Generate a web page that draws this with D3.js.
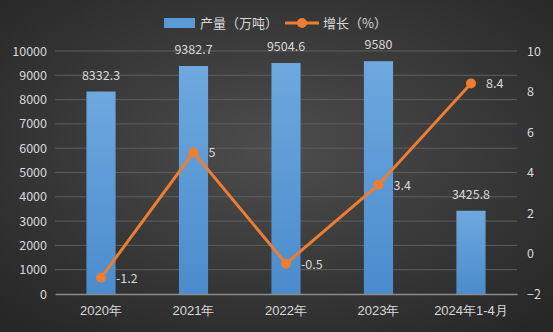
<!DOCTYPE html>
<html>
<head>
<meta charset="utf-8">
<script src="https://cdn.jsdelivr.net/npm/d3@7"></script>
<style>
  html, body { margin: 0; padding: 0; background: #333; }
  svg { display: block; font-family: "Noto Sans CJK SC", "Noto Sans", sans-serif; }
</style>
</head>
<body>
<div id="chart"></div>
<script>
const categories = ['2020年', '2021年', '2022年', '2023年', '2024年1-4月'];
const output = [8332.3, 9382.7, 9504.6, 9580, 3425.8];
const growth = [-1.2, 5, -0.5, 3.4, 8.4];
const leftTicks = [0, 1000, 2000, 3000, 4000, 5000, 6000, 7000, 8000, 9000, 10000];
const rightTicks = [-2, 0, 2, 4, 6, 8, 10];

const width = 553, height = 332;
const margin = { top: 51, right: 36, bottom: 38, left: 55 };
const textColor = '#d9d9d9';
const numFont = '"Noto Sans CJK SC", "Noto Sans", sans-serif';

const svg = d3.select('#chart').append('svg')
  .attr('width', width)
  .attr('height', height);

// fond
const defs = svg.append('defs');
const bg = defs.append('radialGradient').attr('id', 'bg')
  .attr('cx', '50%').attr('cy', '45%').attr('r', '70%');
bg.append('stop').attr('offset', '0%').attr('stop-color', '#4d4d4d');
bg.append('stop').attr('offset', '100%').attr('stop-color', '#272727');
svg.append('rect').attr('width', width).attr('height', height).attr('fill', 'url(#bg)');

const barGrad = defs.append('linearGradient').attr('id', 'barGrad')
  .attr('x1', 0).attr('y1', 0).attr('x2', 0).attr('y2', 1);
barGrad.append('stop').attr('offset', '0%').attr('stop-color', '#6ea8df');
barGrad.append('stop').attr('offset', '100%').attr('stop-color', '#4a8ccd');

const x = d3.scaleBand()
  .domain(categories)
  .range([margin.left, width - margin.right])
  .paddingInner(0.685)
  .paddingOuter(0.34);

const yL = d3.scaleLinear().domain([0, 10000]).range([height - margin.bottom, margin.top]);
const yR = d3.scaleLinear().domain([-2, 10]).range([height - margin.bottom, margin.top]);

// grille
svg.append('g')
  .selectAll('line')
  .data(leftTicks.slice(1))
  .enter().append('line')
  .attr('x1', margin.left).attr('x2', width - margin.right)
  .attr('y1', d => yL(d)).attr('y2', d => yL(d))
  .attr('stroke', '#5e5e5e').attr('stroke-width', 1);

// axe gauche
const axL = svg.append('g')
  .attr('transform', `translate(${margin.left - 8},0)`)
  .call(d3.axisLeft(yL).tickValues(leftTicks).tickFormat(d3.format('d')).tickSize(0).tickPadding(0));
axL.select('.domain').remove();
axL.selectAll('text').attr('fill', textColor).style('font-size', '12.5px')
  .style('font-family', numFont);

// axe droit
const axR = svg.append('g')
  .attr('transform', `translate(${width - margin.right + 10},0)`)
  .call(d3.axisRight(yR).tickValues(rightTicks).tickSize(0).tickPadding(0));
axR.select('.domain').remove();
axR.selectAll('text').attr('fill', textColor).style('font-size', '12.5px')
  .style('font-family', numFont);

// barres
svg.append('g')
  .selectAll('rect')
  .data(output)
  .enter().append('rect')
  .attr('x', (d, i) => x(categories[i]))
  .attr('width', x.bandwidth())
  .attr('y', d => yL(d))
  .attr('height', d => yL(0) - yL(d))
  .attr('fill', 'url(#barGrad)');

// axe bas
const axB = svg.append('g')
  .attr('transform', `translate(0,${yL(0)})`)
  .call(d3.axisBottom(x).tickSize(0).tickPadding(12));
axB.select('.domain').attr('stroke', '#8c8c8c').attr('stroke-width', 1.5);
axB.selectAll('text').attr('fill', textColor).style('font-size', '13px');

// étiquettes des barres
svg.append('g')
  .selectAll('text')
  .data(output)
  .enter().append('text')
  .attr('x', (d, i) => x(categories[i]) + x.bandwidth() / 2)
  .attr('y', d => yL(d) - 12)
  .attr('text-anchor', 'middle')
  .attr('fill', textColor)
  .style('font-size', '12.5px')
  .style('font-family', numFont)
  .text(d => d);

// courbe
const cx = i => x(categories[i]) + x.bandwidth() / 2;
const line = d3.line()
  .x((d, i) => cx(i))
  .y(d => yR(d));

svg.append('path')
  .datum(growth)
  .attr('d', line)
  .attr('fill', 'none')
  .attr('stroke', '#ed7d31')
  .attr('stroke-width', 3);

svg.append('g')
  .selectAll('circle')
  .data(growth)
  .enter().append('circle')
  .attr('cx', (d, i) => cx(i))
  .attr('cy', d => yR(d))
  .attr('r', 5)
  .attr('fill', '#ed7d31');

svg.append('g')
  .selectAll('text')
  .data(growth)
  .enter().append('text')
  .attr('x', (d, i) => cx(i) + 15)
  .attr('y', d => yR(d) + 5)
  .attr('fill', textColor)
  .style('font-size', '12.5px')
  .style('font-family', numFont)
  .text(d => d);

// légende
const lg = svg.append('g');
lg.append('rect').attr('x', 164).attr('y', 18).attr('width', 31).attr('height', 10).attr('fill', '#5b9bd5');
lg.append('text').attr('x', 200).attr('y', 28).attr('fill', textColor).style('font-size', '13px').text('产量（万吨）');
lg.append('line').attr('x1', 285).attr('x2', 319).attr('y1', 23).attr('y2', 23)
  .attr('stroke', '#ed7d31').attr('stroke-width', 3);
lg.append('circle').attr('cx', 302).attr('cy', 23).attr('r', 5).attr('fill', '#ed7d31');
lg.append('text').attr('x', 323).attr('y', 28).attr('fill', textColor).style('font-size', '13px').text('增长（%）');
</script>
</body>
</html>
